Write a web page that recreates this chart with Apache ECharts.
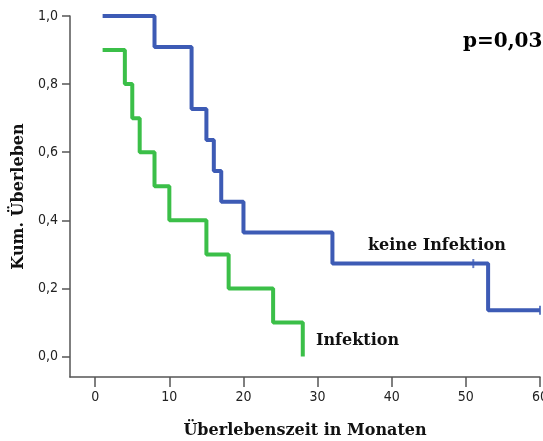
<!DOCTYPE html>
<html><head><meta charset="utf-8">
<script src="https://cdn.jsdelivr.net/npm/echarts@6/dist/echarts.min.js"></script>
<style>html,body{margin:0;padding:0;background:#fff}#c{width:543px;height:441px}</style>
</head><body><div id="c"></div>
<script>
// Kaplan-Meier step data: [time in months, cumulative survival]
const keineInfektion = [[1,1],[8,0.909],[13,0.727],[15,0.636],[16,0.545],[17,0.4545],[20,0.364],[32,0.273],[53,0.136],[60,0.136]];
const keineInfektionCensored = [[51,0.273],[60,0.136]];
const infektion = [[1,0.9],[4,0.8],[5,0.7],[6,0.6],[8,0.5],[10,0.4],[15,0.3],[18,0.2],[24,0.1],[28,0.0]];
const xTicks = [0,10,20,30,40,50,60];
const yTicks = [0,0.2,0.4,0.6,0.8,1.0];

const serif = "'DejaVu Serif', 'Liberation Serif', serif";
const narrow = "'Liberation Sans Narrow', 'DejaVu Sans Condensed', 'Liberation Sans', sans-serif";
const axisCol = '#555';
const blue = '#3d5bb5', green = '#3bbf48';

const chart = echarts.init(document.getElementById('c'));
chart.setOption({
  animation: false,
  grid: {left: 70, right: 3, top: 16, bottom: 64, containLabel: false, outerBoundsMode: 'none'},
  xAxis: {
    type: 'value', min: -3.4, max: 60,
    name: 'Überlebenszeit in Monaten', nameLocation: 'middle', nameGap: 46,
    nameTextStyle: {fontFamily: serif, fontWeight: 'bold', fontSize: 16, color: '#111'},
    axisLine: {show: true, onZero: false, lineStyle: {color: axisCol, width: 1.5}},
    axisTick: {show: true, length: 10, customValues: xTicks, lineStyle: {color: axisCol, width: 1.5}},
    axisLabel: {customValues: xTicks, margin: 13, fontFamily: narrow, fontSize: 14, color: '#222'},
    splitLine: {show: false}
  },
  yAxis: {
    type: 'value', min: -0.06, max: 1.0,
    name: 'Kum. Überleben', nameLocation: 'middle', nameGap: 40,
    nameTextStyle: {fontFamily: serif, fontWeight: 'bold', fontSize: 16, color: '#111'},
    axisLine: {show: true, onZero: false, lineStyle: {color: axisCol, width: 1.5}},
    axisTick: {show: true, length: 8, customValues: yTicks, lineStyle: {color: axisCol, width: 1.5}},
    axisLabel: {customValues: yTicks, margin: 12, fontFamily: narrow, fontSize: 14, color: '#222',
      formatter: v => v.toFixed(1).replace('.', ',')},
    splitLine: {show: false}
  },
  series: [
    {type: 'line', step: 'end', data: keineInfektion, showSymbol: false, lineStyle: {color: blue, width: 4}},
    {type: 'scatter', data: keineInfektionCensored, symbol: 'rect', symbolSize: [2, 9], itemStyle: {color: blue}},
    {type: 'line', step: 'end', data: infektion, showSymbol: false, lineStyle: {color: green, width: 4}}
  ],
  graphic: [
    {type: 'text', left: 463, top: 32, style: {text: 'p=0,03', font: "bold 20px " + serif, fill: '#000'}},
    {type: 'text', left: 368, top: 238, style: {text: 'keine Infektion', font: "bold 16px " + serif, fill: '#111'}},
    {type: 'text', left: 316, top: 333, style: {text: 'Infektion', font: "bold 16px " + serif, fill: '#111'}}
  ]
});
</script></body></html>
